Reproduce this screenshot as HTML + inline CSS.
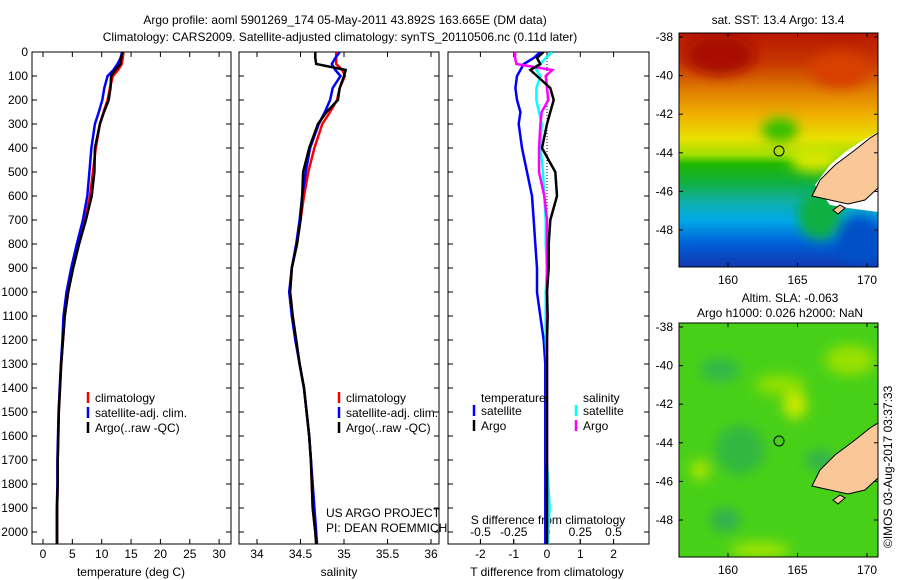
<!DOCTYPE html>
<html><head><meta charset="utf-8"><style>
body{margin:0;background:#fff;}
svg{display:block;font-family:"Liberation Sans",sans-serif;}
text{font-size:12px;fill:#000;}
</style></head><body>
<svg id="fig" width="900" height="580" viewBox="0 0 900 580">
<defs>
<clipPath id="c1"><rect x="32" y="52" width="199" height="492"/></clipPath>
<clipPath id="c2"><rect x="239" y="52" width="200" height="492"/></clipPath>
<clipPath id="c3"><rect x="448" y="52" width="201" height="492"/></clipPath>
<clipPath id="m1"><rect x="679" y="33" width="199" height="234"/></clipPath>
<clipPath id="m2"><rect x="679" y="323" width="199" height="234"/></clipPath>
<linearGradient id="sst" x1="0" y1="0" x2="0" y2="1">
<stop offset="0" stop-color="#b81800"/><stop offset="0.13" stop-color="#c83800"/><stop offset="0.25" stop-color="#e08000"/>
<stop offset="0.35" stop-color="#f0b000"/><stop offset="0.45" stop-color="#e8e000"/><stop offset="0.52" stop-color="#a0e000"/>
<stop offset="0.56" stop-color="#20b800"/><stop offset="0.64" stop-color="#10b040"/><stop offset="0.72" stop-color="#10b0a8"/><stop offset="0.8" stop-color="#00a8e8"/>
<stop offset="0.9" stop-color="#0060d8"/><stop offset="1" stop-color="#1038b0"/></linearGradient>
<filter id="bl"><feGaussianBlur stdDeviation="6"/></filter>
</defs>
<text x="345" y="24" text-anchor="middle">Argo profile: aoml 5901269_174 05-May-2011 43.892S 163.665E (DM data)</text>
<text x="340" y="41" text-anchor="middle">Climatology: CARS2009. Satellite-adjusted climatology: synTS_20110506.nc (0.11d later)</text>
<g id="yticks"></g>
<g id="p1"></g>
<g id="p2"></g>
<g id="p3"></g>

<g>
<g clip-path="url(#m1)">
<rect x="679" y="33" width="199" height="234" fill="url(#sst)"/>
<g filter="url(#bl)">
<ellipse cx="780" cy="130" rx="18" ry="12" fill="#30c000"/>
<ellipse cx="815" cy="160" rx="25" ry="12" fill="#d8e800"/>
<ellipse cx="820" cy="215" rx="22" ry="25" fill="#10b040"/>
<ellipse cx="720" cy="55" rx="35" ry="20" fill="#a80800"/>
<ellipse cx="840" cy="70" rx="30" ry="18" fill="#d84000"/>
<ellipse cx="860" cy="240" rx="25" ry="25" fill="#0050c8"/>
</g>
<polygon points="815,185 830,165 845,152 860,142 878,132 878,212 848,208 830,205" fill="#fff"/>
<polygon points="812,196 820,180 835,165 855,150 870,138 878,133 878,188 865,200 848,204 830,200" fill="#fac898" stroke="#000" stroke-width="1"/>
<polygon points="833,210 840,205 845,208 838,214" fill="#fac898" stroke="#000"/>
<circle cx="779" cy="151" r="5" fill="none" stroke="#000"/>
</g>
<rect x="679" y="33" width="199" height="234" fill="none" stroke="#000"/>
</g>
<text x="778" y="24" text-anchor="middle">sat. SST: 13.4 Argo: 13.4</text>

<g>
<g clip-path="url(#m2)">
<rect x="679" y="323" width="199" height="234" fill="#48d018"/>
<g filter="url(#bl)">
<ellipse cx="795" cy="405" rx="12" ry="14" fill="#c8e800"/>
<ellipse cx="780" cy="385" rx="25" ry="10" fill="#90e000"/>
<ellipse cx="720" cy="370" rx="20" ry="12" fill="#30b848"/>
<ellipse cx="740" cy="450" rx="25" ry="25" fill="#30b840"/>
<ellipse cx="725" cy="520" rx="15" ry="12" fill="#30b050"/>
<ellipse cx="700" cy="470" rx="10" ry="10" fill="#a8e400"/>
<ellipse cx="850" cy="360" rx="25" ry="15" fill="#98e000"/>
<ellipse cx="820" cy="460" rx="15" ry="10" fill="#30b050"/>
<ellipse cx="760" cy="550" rx="30" ry="8" fill="#a0e400"/>
</g>
<polygon points="812,486 820,470 835,455 855,440 870,428 878,423 878,478 865,490 848,494 830,490" fill="#fac898" stroke="#000" stroke-width="1"/>
<polygon points="833,500 840,495 845,498 838,504" fill="#fac898" stroke="#000"/>
<circle cx="779" cy="441" r="5" fill="none" stroke="#000"/>
</g>
<rect x="679" y="323" width="199" height="234" fill="none" stroke="#000"/>
</g>
<text x="790" y="302" text-anchor="middle">Altim. SLA: -0.063</text>
<text x="780" y="317" text-anchor="middle">Argo h1000: 0.026 h2000: NaN</text>
<text transform="translate(892,548) rotate(-90)">©IMOS 03-Aug-2017 03:37:33</text>
<g id="maxes"></g>
</svg>
<script>
const depths = [0,25,50,75,100,150,200,250,300,400,500,600,700,800,900,1000,1100,1200,1300,1400,1500,1600,1700,1800,1900,2000,2050];
const tempClim = [13.7,13.6,13.4,12.8,11.9,11.4,11.0,10.3,9.7,9.0,8.5,8.0,7.2,6.1,5.1,4.3,3.7,3.4,3.1,2.9,2.7,2.6,2.5,2.5,2.4,2.4,2.4];
const tempSat = [13.5,13.2,12.7,12.0,11.0,10.45,10.1,9.5,8.85,8.25,7.9,7.55,6.8,5.75,4.8,4.0,3.5,3.3,3.05,2.85,2.65,2.55,2.45,2.45,2.35,2.35,2.35];
const tempArgo = [13.6,13.3,13.2,12.3,11.6,11.5,11.2,10.4,9.7,8.85,8.75,8.3,7.3,6.15,5.15,4.3,3.72,3.4,3.1,2.9,2.7,2.6,2.5,2.5,2.4,2.4,2.4];
const salClim = [34.91,34.91,34.91,34.98,35.01,34.95,34.92,34.84,34.75,34.66,34.59,34.54,34.50,34.46,34.40,34.38,34.41,34.45,34.49,34.54,34.57,34.60,34.62,34.63,34.64,34.67,34.68];
const salSat = [34.95,34.90,34.86,34.90,34.96,34.87,34.84,34.78,34.71,34.61,34.56,34.52,34.49,34.45,34.40,34.37,34.40,34.44,34.49,34.54,34.57,34.60,34.62,34.64,34.66,34.68,34.69];
const salArgo = [34.67,34.67,34.68,35.02,35.0,34.95,34.93,34.80,34.70,34.60,34.53,34.52,34.50,34.46,34.40,34.38,34.41,34.45,34.49,34.54,34.57,34.60,34.62,34.63,34.64,34.67,34.68];
const depthTicks = [0,100,200,300,400,500,600,700,800,900,1000,1100,1200,1300,1400,1500,1600,1700,1800,1900,2000];
const tempTicks = [0,5,10,15,20,25,30];
const salTicks = [34,34.5,35,35.5,36];
const tDiffTicks = [-2,-1,0,1,2];
const sDiffTicks = [-0.5,-0.25,0,0.25,0.5];
const sDiffLabels = ["-0.5","-0.25","0","0.25","0.5"];
const latTicks = [-38,-40,-42,-44,-46,-48];
const lonTicks = [160,165,170];

const NS='http://www.w3.org/2000/svg';
function mk(tag,attrs,parent){const e=document.createElementNS(NS,tag);for(const k in attrs)e.setAttribute(k,attrs[k]);parent.appendChild(e);return e;}
const yD=d=>52+d*0.24;
const xT=v=>43+v*5.87;
const xS=v=>257+(v-34)*87;
const xTd=v=>547+v*33.3;
const xSd=v=>547+v*133;
const xLon=v=>728+(v-160)*13.9;
const yLat=v=>37+(-38-v)*19.3;

function frame(g,x,y,w,h){
  const r=mk('rect',{x:x,y:y,width:w,height:h,fill:'none',stroke:'#000','stroke-width':1},g);
  
  
}
function line(g,vals,xf,color,clip,name){
  const pts=vals.map((v,i)=>xf(v).toFixed(1)+','+yD(depths[i]).toFixed(1)).join(' ');
  const p=mk('polyline',{points:pts,fill:'none',stroke:color,'stroke-width':2.5,'clip-path':'url(#'+clip+')'},g);
  
  
}
function xticks(g,ticks,labels,xf,x0,x1,labY,size){
  ticks.forEach((t,i)=>{
    const x=xf(t);
    mk('line',{x1:x,y1:544,x2:x,y2:544-size,stroke:'#000'},g);
    mk('line',{x1:x,y1:52,x2:x,y2:52+size,stroke:'#000'},g);
    const tx=mk('text',{x:x,y:labY,'text-anchor':'middle'},g);
    tx.textContent=labels[i];
    
    
  });
}
function yticks(g,x0,x1){
  depthTicks.forEach(d=>{
    mk('line',{x1:x0,y1:yD(d),x2:x0+5,y2:yD(d),stroke:'#000'},g);
    mk('line',{x1:x1,y1:yD(d),x2:x1-5,y2:yD(d),stroke:'#000'},g);
  });
}
function legend(g,x,y,color,label){
  mk('line',{x1:x,y1:y-10,x2:x,y2:y+1,stroke:color,'stroke-width':2.5},g);
  const t=mk('text',{x:x+7,y:y},g);t.textContent=label;
  
  
}
function txt(g,x,y,s,anchor,name){const t=mk('text',{x:x,y:y,'text-anchor':anchor||'start'},g);t.textContent=s;
  
  return t;}

const yt=document.getElementById('yticks');
depthTicks.forEach(d=>{txt(yt,28,yD(d)+4,String(d),'end','y-tick-label');});

const p1=document.getElementById('p1');
frame(p1,32,52,199,492);yticks(p1,32,231);
xticks(p1,tempTicks,tempTicks.map(String),xT,32,231,558,5);
line(p1,tempClim,xT,'#ff0000','c1','temp-climatology-line');
line(p1,tempSat,xT,'#0000ff','c1','temp-satellite-line');
line(p1,tempArgo,xT,'#000000','c1','temp-argo-line');
legend(p1,88,402,'#ff0000','climatology');
legend(p1,88,417,'#0000ff','satellite-adj. clim.');
legend(p1,88,432,'#000000','Argo(..raw -QC)');
txt(p1,131,576,'temperature (deg C)','middle','temperature-axis-title');

const p2=document.getElementById('p2');
frame(p2,239,52,200,492);yticks(p2,239,439);
xticks(p2,salTicks,salTicks.map(String),xS,239,439,558,5);
line(p2,salClim,xS,'#ff0000','c2','sal-climatology-line');
line(p2,salSat,xS,'#0000ff','c2','sal-satellite-line');
line(p2,salArgo,xS,'#000000','c2','sal-argo-line');
legend(p2,339,402,'#ff0000','climatology');
legend(p2,339,417,'#0000ff','satellite-adj. clim.');
legend(p2,339,432,'#000000','Argo(..raw -QC)');
txt(p2,326,517,'US ARGO PROJECT','start','project-label');
txt(p2,326,532,'PI: DEAN ROEMMICH','start','pi-label');
txt(p2,339,576,'salinity','middle','salinity-axis-title');

const p3=document.getElementById('p3');
frame(p3,448,52,201,492);yticks(p3,448,649);
xticks(p3,tDiffTicks,tDiffTicks.map(String),xTd,448,649,558,5);
sDiffTicks.forEach((t,i)=>{const x=xSd(t);mk('line',{x1:x,y1:544,x2:x,y2:539,stroke:'#000'},p3);
  txt(p3,x,536,sDiffLabels[i],'middle','s-diff-tick-label');});
txt(p3,548,524,'S difference from climatology','middle','s-diff-axis-title');
txt(p3,547,576,'T difference from climatology','middle','t-diff-axis-title');
mk('line',{x1:547,y1:52,x2:547,y2:544,stroke:'#000','stroke-dasharray':'1,2'},p3);
const tdSat=tempSat.map((v,i)=>v-tempClim[i]);
const tdArgo=tempArgo.map((v,i)=>v-tempClim[i]);
const sdSat=salSat.map((v,i)=>v-salClim[i]);
const sdArgo=salArgo.map((v,i)=>v-salClim[i]);
line(p3,tdSat,xTd,'#0000ff','c3','t-diff-satellite-line');
line(p3,sdSat,xSd,'#00ffff','c3','s-diff-satellite-line');
line(p3,sdArgo,xSd,'#ff00ff','c3','s-diff-argo-line');
line(p3,tdArgo,xTd,'#000000','c3','t-diff-argo-line');
txt(p3,481,402,'temperature','start','legend-temperature-heading');
txt(p3,583,402,'salinity','start','legend-salinity-heading');
legend(p3,474,415,'#0000ff','satellite');
legend(p3,474,430,'#000000','Argo');
legend(p3,576,415,'#00ffff','satellite');
legend(p3,576,430,'#ff00ff','Argo');

const ma=document.getElementById('maxes');
[0,290].forEach(off=>{
  latTicks.forEach(l=>{const y=yLat(l)+off;mk('line',{x1:679,y1:y,x2:683,y2:y,stroke:'#000'},ma);mk('line',{x1:878,y1:y,x2:874,y2:y,stroke:'#000'},ma);
    txt(ma,673,y+4,String(l),'end','map-lat-label');});
  lonTicks.forEach(l=>{const x=xLon(l);mk('line',{x1:x,y1:33+off,x2:x,y2:37+off,stroke:'#000'},ma);mk('line',{x1:x,y1:267+off,x2:x,y2:263+off,stroke:'#000'},ma);
    txt(ma,x,284+off,String(l),'middle','map-lon-label');});
});
</script>
</body></html>
